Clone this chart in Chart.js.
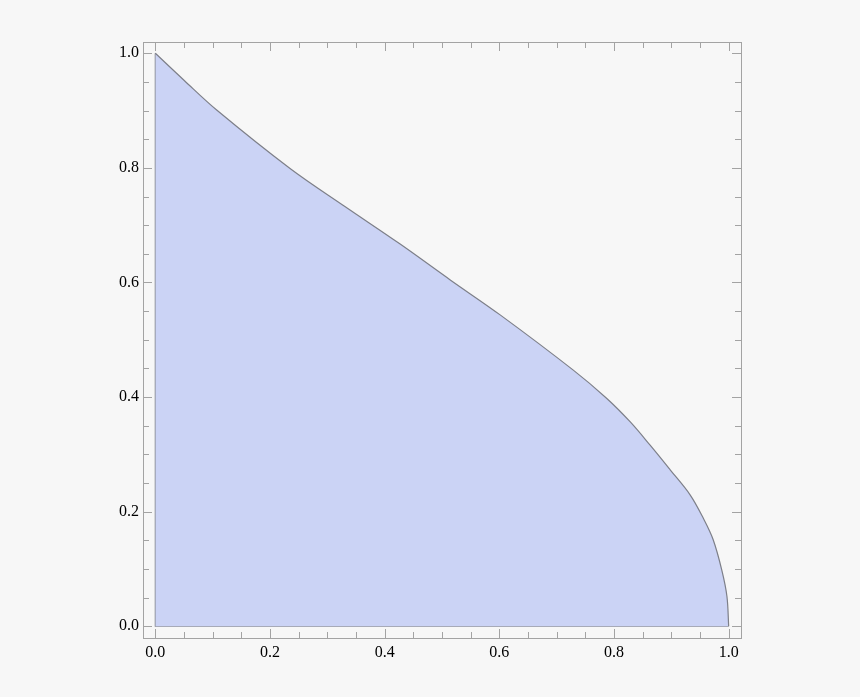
<!DOCTYPE html>
<html>
<head>
<meta charset="utf-8">
<script src="https://cdn.jsdelivr.net/npm/chart.js@4/dist/chart.umd.min.js"></script>
<style>
  html, body { margin: 0; padding: 0; background: #f7f7f7; }
  #wrap { width: 860px; height: 697px; }
</style>
</head>
<body>
<div id="wrap"><canvas id="chart_canvas"></canvas></div>
<script>
"use strict";
// boundary curve
const curve_x = [0, 0.05, 0.107, 0.235, 0.33, 0.427, 0.515, 0.602, 0.729, 0.787, 0.828, 0.863, 0.898, 0.933, 0.956, 0.973, 0.988, 0.997, 1.0];
const curve_y = [1.0, 0.953, 0.901, 0.799, 0.733, 0.667, 0.604, 0.543, 0.447, 0.398, 0.357, 0.316, 0.273, 0.229, 0.188, 0.151, 0.098, 0.052, 0.0];
// left and bottom edges of the region
const edge_x = [0, 0, 1];
const edge_y = [1, 0, 0];
const major_ticks = [0, 0.2, 0.4, 0.6, 0.8, 1.0];
const minor_ticks = [0.05, 0.1, 0.15, 0.25, 0.3, 0.35, 0.45, 0.5, 0.55, 0.65, 0.7, 0.75, 0.85, 0.9, 0.95];
const tick_labels = ["0.0", "0.2", "0.4", "0.6", "0.8", "1.0"];

const frame_color = "#a3a3a3";
const label_font = { family: "\"Liberation Serif\", \"Times New Roman\", serif", size: 16 };

// Mathematica style frame: box with inward ticks on all four sides
const frame_plugin = {
  id: "frame",
  afterDraw(chart) {
    const ctx = chart.ctx;
    const a = chart.chartArea;
    const xs = chart.scales.x, ys = chart.scales.y;
    ctx.save();
    ctx.strokeStyle = frame_color;
    ctx.lineWidth = 1;
    ctx.strokeRect(Math.round(a.left) + 0.5, Math.round(a.top) + 0.5,
      Math.round(a.right - a.left), Math.round(a.bottom - a.top));
    ctx.beginPath();
    function tick(v, len) {
      const px = Math.round(xs.getPixelForValue(v)) + 0.5;
      const py = Math.round(ys.getPixelForValue(v)) + 0.5;
      ctx.moveTo(px, a.bottom); ctx.lineTo(px, a.bottom - len);
      ctx.moveTo(px, a.top); ctx.lineTo(px, a.top + len);
      ctx.moveTo(a.left, py); ctx.lineTo(a.left + len, py);
      ctx.moveTo(a.right, py); ctx.lineTo(a.right - len, py);
    }
    major_ticks.forEach(v => tick(v, 9));
    minor_ticks.forEach(v => tick(v, 6));
    ctx.stroke();
    ctx.restore();
  }
};

function set_ticks(scale) {
  scale.ticks = major_ticks.map(v => ({ value: v }));
}

new Chart(document.getElementById("chart_canvas"), {
  type: "line",
  data: {
    datasets: [
      {
        data: curve_x.map((x, i) => ({ x: x, y: curve_y[i] })),
        borderColor: "#7d7f88",
        borderWidth: 1.2,
        backgroundColor: "#cbd3f5",
        fill: "origin",
        pointRadius: 0,
        tension: 0.35
      },
      {
        data: edge_x.map((x, i) => ({ x: x, y: edge_y[i] })),
        borderColor: "#7d7f88",
        borderWidth: 1.2,
        fill: false,
        pointRadius: 0,
        tension: 0
      }
    ]
  },
  options: {
    responsive: true,
    maintainAspectRatio: false,
    animation: false,
    layout: { padding: { left: 103, right: 119, top: 42, bottom: 19 } },
    plugins: { legend: { display: false }, tooltip: { enabled: false } },
    scales: {
      x: {
        type: "linear",
        min: -0.0215,
        max: 1.0215,
        afterBuildTicks: set_ticks,
        afterFit: s => { s.height = 40; },
        grid: { display: false, drawTicks: false },
        border: { display: false },
        ticks: {
          padding: 5,
          color: "#000",
          font: label_font,
          maxRotation: 0,
          callback: (v) => tick_labels[major_ticks.indexOf(v)]
        }
      },
      y: {
        type: "linear",
        min: -0.0205,
        max: 1.0197,
        afterBuildTicks: set_ticks,
        afterFit: s => { s.width = 40; },
        grid: { display: false, drawTicks: false },
        border: { display: false },
        ticks: {
          padding: 4,
          color: "#000",
          font: label_font,
          callback: (v) => tick_labels[major_ticks.indexOf(v)]
        }
      }
    }
  },
  plugins: [frame_plugin]
});
</script>
</body>
</html>
